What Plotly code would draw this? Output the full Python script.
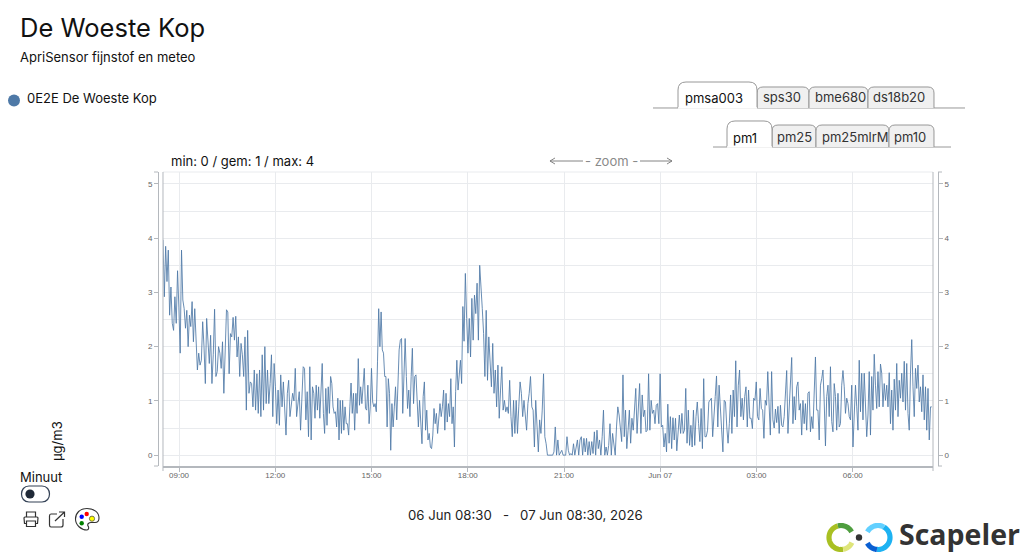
import numpy as np
import pandas as pd
import plotly.graph_objects as go

TITLE = "De Woeste Kop"
SUBTITLE = "ApriSensor fijnstof en meteo"
SENSOR = "0E2E De Woeste Kop"
STATS = "min: 0 / gem: 1 / max: 4"
UNIT = "µg/m3"
DATE_RANGE = "06 Jun 08:30   -   07 Jun 08:30, 2026"
TABS_TOP = ["pmsa003", "sps30", "bme680", "ds18b20"]
TABS_SUB = ["pm1", "pm25", "pm25mlrM", "pm10"]
X_TICK_TIMES = ["2026-06-06 09:00", "2026-06-06 12:00", "2026-06-06 15:00", "2026-06-06 18:00",
                "2026-06-06 21:00", "2026-06-07 00:00", "2026-06-07 03:00", "2026-06-07 06:00"]
X_TICK_LABELS = ["09:00", "12:00", "15:00", "18:00", "21:00", "Jun 07", "03:00", "06:00"]

# pm1 readings, one list per stretch of the time axis
T_BREAKS = ["2026-06-06 08:30", "2026-06-06 13:12", "2026-06-06 17:53",
            "2026-06-06 22:43", "2026-06-07 03:33", "2026-06-07 08:30"]
pm1_a = [3.97,2.92,3.85,3.2,3.78,2.58,3.1,2.43,2.3,2.92,2.43,3.4,2.73,1.88,3.78,2.86,2.7,2.34,2.67,2.0,2.58,2.37,2.83,2.09,2.7,2.0,1.57,1.88,1.66,1.75,
         2.46,2.0,1.32,2.52,2.12,1.69,2.21,1.32,1.85,2.69,1.45,1.54,2.0,1.88,1.6,2.09,1.14,2.18,2.68,2.64,1.5,2.24,2.18,2.54,2.12,2.56,1.81,2.18,1.45,2.06,
         1.85,1.45,2.18,0.83,2.3,1.14,1.35,1.32,0.89,1.57,0.83,1.5,0.77,1.57,0.71,1.85,0.83,2.0,0.95,1.57,0.95,1.32,1.85,0.71,1.69,1.26,0.58,1.2,0.55,1.48,
         0.89,1.35,0.95,0.37,1.14,1.38,0.71,0.95,1.14,1.0,1.6,0.71,1.0,1.17,0.46,1.0,1.63,1.6,0.65,1.17,0.34,1.63,0.28,1.26]
pm1_b = [1.14,.68,1.29,.83,1.26,.68,1.2,1.69,.77,.4,1.23,.55,1.26,.77,1.45,1.32,.89,.77,.8,.52,1.05,.28,1.01,.4,1.01,.46,.89,.58,.58,.37,
         .89,1.33,.77,1.14,.46,1.14,.77,1.78,.92,1.26,.95,1.23,1.6,.86,.83,1.29,.58,.89,1.6,.98,.89,.95,.8,1.72,2.7,2.0,2.64,1.94,1.88,1.45,
         1.45,.52,1.41,1.14,.09,.95,.52,.89,1.26,.65,1.38,1.94,2.12,2.15,.77,1.69,2.15,1.45,.86,1.2,.71,1.45,1.97,.95,1.45,1.48,.92,.52,1.01,.58,
         .21,1.08,1.35,.46,.83,.28,.4,.15,.12,.37,.86,.58,.77,.4,.71,.95,.71,.89,1.2,.46,1.14,.61,.95,.71,1.41,.58,.89,.15,1.17,1.75,1.2,1.45,1.75,1.32,2.74]
pm1_c = [2.1,3.35,2.52,1.88,2.52,1.81,2.89,2.12,2.95,2.61,3.17,2.12,3.5,2.98,2.7,2.24,1.45,2.67,1.38,2.18,1.82,1.26,2.06,1.14,1.57,.89,1.66,.68,1.2,1.63,
         .83,1.01,.80,.89,.77,1.38,.71,.34,1.01,.4,1.01,.40,.89,1.35,1.14,.71,1.01,.65,.46,.95,1.14,1.45,.89,.83,.15,1.01,.46,.06,.65,.40,
         .83,1.5,.34,.21,0,0,0,0,0,.06,.52,0,.28,0,.06,.09,0,0,0,.34,.09,0,.03,0,.21,0,.15,.28,0,.28,
         .34,0,.31,.06,.31,0,.25,0,.25,.03,.43,0,.46,.12,.28,0,.34,.83,0,.15,0,.18,.58,0,.4,.15,0,.52,.89]
pm1_d = [.74,.46,.25,1.48,.34,.83,.12,.46,.83,.22,.68,.46,.98,1.23,.4,.86,1.32,.4,1.11,.71,.83,.43,.46,1.5,.46,1.01,.77,.83,.58,.92,
         .95,.58,1.5,.52,.55,.15,.4,.06,.94,.22,.71,.12,.69,.28,.68,.08,.46,.74,.4,.77,.4,.46,1.23,.22,.83,.18,.55,.15,.83,.18,
         .71,.98,.58,.25,.86,.12,1.41,.34,.34,.46,.98,1.01,1.05,.34,.83,1.08,1.46,.52,1.29,.89,.49,.06,1.01,.98,.52,.22,.58,1.11,.4,1.2,
         .71,1.74,.52,1.29,1.57,.71,1.05,.65,1.08,1.26,.52,1.2,.68,.68,.49,1.05,1.01,1.35,.71,.65,1.23,.86,.83,.31,1.01,.92,1.54,.77,.37,1.54,.65]
pm1_e = [.5,.85,.6,.9,.4,.92,.55,.52,.71,1.11,1.56,.4,.83,1.32,1.8,.58,1.08,.65,1.26,1.35,.83,.95,.37,1.01,.58,.95,.46,1.14,1.17,.43,
         .71,.49,1.29,1.81,.83,.83,.28,1.29,1.41,1.57,.98,.17,1.08,1.29,.71,1.63,.62,.43,1.32,1.08,.46,1.14,.52,.58,1.29,1.56,1.26,.77,1.05,.95,
         .71,.65,1.29,.15,.74,1.29,.89,.46,1.75,.8,1.51,.65,1.51,.83,.34,.74,1.54,.37,1.45,.83,1.86,1.29,.86,1.54,.89,1.68,1.51,.89,1.32,1.01,
         1.29,.89,1.52,.58,1.2,.46,1.4,.83,1.69,.71,1.38,1.05,1.51,.98,1.73,.83,1.69,.77,.46,1.51,2.13,1.26,.71,1.6,1.23,1.66,.98,1.26,.8,1.48,
         .65,1.26,.46,1.23,.28,.89,.89]

SEGMENTS = [pm1_a, pm1_b, pm1_c, pm1_d, pm1_e]
times, values = [], []
for i, seg in enumerate(SEGMENTS):
    stamps = pd.date_range(T_BREAKS[i], T_BREAKS[i + 1], periods=len(seg) + 1)[:-1]
    times.extend(stamps)
    values.extend(seg)

BLUE = "#4e79a7"
GRID = "#e9ebee"
AXIS = "#b4b8bd"
TXT = "#111111"
FONT = "Inter"

W, H = 1023, 553
LEFT, RIGHT, TOP, BOTTOM = 158, 938, 172, 466


def px(x):
    return (x - LEFT) / (RIGHT - LEFT)


def py(y):
    return 1 - (y - TOP) / (BOTTOM - TOP)


def P(cmds):
    """Build a paper path from (cmd, x, y, ...) tuples given in page pixels."""
    out = []
    for c in cmds:
        nums = c[1:]
        pairs = [f"{px(nums[i]):.5f},{py(nums[i + 1]):.5f}" for i in range(0, len(nums), 2)]
        out.append(c[0] + " ".join(pairs))
    return " ".join(out)


shapes, notes = [], []


def path(cmds, color="#333333", width=1.0, fill=None):
    shapes.append(dict(type="path", xref="paper", yref="paper", path=P(cmds),
                       line=dict(color=color, width=width),
                       fillcolor=fill if fill else "rgba(0,0,0,0)"))


def circle(cx, cy, r, fill, color=None, width=0):
    shapes.append(dict(type="circle", xref="paper", yref="paper",
                       x0=px(cx - r), x1=px(cx + r), y0=py(cy + r), y1=py(cy - r),
                       fillcolor=fill, line=dict(color=color or fill, width=width)))


def text(s, x, y, size=13, color=TXT, anchor="left", family=FONT, angle=0, weight=None):
    f = dict(size=size, color=color, family=family)
    if weight:
        f["weight"] = weight
    notes.append(dict(text=s, xref="paper", yref="paper", x=px(x), y=py(y), xanchor=anchor,
                      yanchor="middle", showarrow=False, font=f, textangle=angle,
                      borderpad=0, borderwidth=0))


def arc(cx, cy, r, a0, a1, color, width=5.2):
    ang = np.radians(np.linspace(a0, a1, 24))
    pts = [("M" if i == 0 else "L", cx + r * np.cos(a), cy - r * np.sin(a)) for i, a in enumerate(ang)]
    path(pts, color=color, width=width)


def tab(x0, x1, ytop, ybase, fill, r=6):
    path([("M", x0, ybase), ("L", x0, ytop + r), ("Q", x0, ytop, x0 + r, ytop),
          ("L", x1 - r, ytop), ("Q", x1, ytop, x1, ytop + r), ("L", x1, ybase)],
         color="#8c8c8c", width=0.9, fill=fill)


# plot frame
path([("M", 163, TOP), ("L", 933, TOP)], color=GRID, width=1)
path([("M", 163, TOP), ("L", 163, 471)], color=AXIS, width=1)
path([("M", 933, TOP), ("L", 933, 471)], color=AXIS, width=1)
path([("M", 154, TOP), ("L", 158, TOP)], color=AXIS, width=1)
path([("M", 154, BOTTOM), ("L", 158, BOTTOM)], color=AXIS, width=1)
path([("M", 938, TOP), ("L", 942, TOP)], color=AXIS, width=1)
path([("M", 938, BOTTOM), ("L", 942, BOTTOM)], color=AXIS, width=1)

# header
text(TITLE, 20, 27, size=25.5)
text(SUBTITLE, 20, 57, size=13)
circle(14, 100.5, 6, BLUE)
text(SENSOR, 27, 98, size=13)
text(STATS, 171, 161, size=13)

# tab strips
path([("M", 653, 108), ("L", 965, 108)], color="#8c8c8c", width=0.9)
tab(757, 809, 87, 108, "#f0f0f0")
tab(809, 868, 87, 108, "#f0f0f0")
tab(868, 934, 87, 108, "#f0f0f0")
tab(678, 757, 82, 108, "#ffffff", r=8)
path([("M", 678, 108), ("L", 757, 108)], color="#ffffff", width=1.6)
for name, cx, cy, col in zip(TABS_TOP, [714, 781.5, 840, 899], [98, 97, 97, 97],
                             [TXT, "#333333", "#333333", "#333333"]):
    text(name, cx, cy, size=13, color=col, anchor="center")

path([("M", 713, 147), ("L", 951, 147)], color="#8c8c8c", width=0.9)
tab(772, 816, 125, 147, "#f0f0f0")
tab(816, 889, 125, 147, "#f0f0f0")
tab(889, 934, 125, 147, "#f0f0f0")
tab(727, 772, 121, 147, "#ffffff", r=8)
path([("M", 727, 147), ("L", 772, 147)], color="#ffffff", width=1.6)
for name, cx, cy, col in zip(TABS_SUB, [745, 794.5, 855, 910], [138, 137, 137, 137],
                             [TXT, "#333333", "#333333", "#333333"]):
    text(name, cx, cy, size=13, color=col, anchor="center")

# zoom hint
text("- zoom -", 611, 161, size=13, color="#8a8a8a", anchor="center")
path([("M", 550, 161), ("L", 583, 161), ("M", 555, 158), ("L", 550, 161), ("L", 555, 164)], color="#777777", width=0.9)
path([("M", 640, 161), ("L", 672, 161), ("M", 667, 158), ("L", 672, 161), ("L", 667, 164)], color="#777777", width=0.9)

# bottom-left controls
text(UNIT, 57, 441, size=13, anchor="center", angle=-90)
text("Minuut", 20, 477, size=13)
path([("M", 29, 486), ("L", 42, 486), ("C", 52, 486, 52, 502, 42, 502), ("L", 29, 502), ("C", 19, 502, 19, 486, 29, 486), ("Z",)],
     color="#334155", width=1.2, fill="#ffffff")
circle(30, 494, 4.6, "#1f2937")

path([("M", 26.5, 517), ("L", 26.5, 512), ("L", 35.5, 512), ("L", 35.5, 517)], width=1.2)
path([("M", 26.5, 523.5), ("L", 24.5, 523.5), ("L", 24, 518), ("Q", 24, 517, 25, 517), ("L", 37, 517), ("Q", 38, 517, 38, 518),
      ("L", 37.5, 523.5), ("L", 35.5, 523.5)], width=1.2)
path([("M", 26.5, 521), ("L", 35.5, 521), ("L", 35.5, 526.5), ("L", 26.5, 526.5), ("Z",)], width=1.2)
path([("M", 57, 514), ("L", 51, 514), ("Q", 49.5, 514, 49.5, 516), ("L", 49.5, 525), ("Q", 49.5, 527, 51, 527), ("L", 61, 527),
      ("Q", 63, 527, 63, 525), ("L", 63, 519)], width=1.2)
path([("M", 55, 521), ("L", 64.5, 512), ("M", 59, 512), ("L", 64.5, 512), ("L", 64.5, 517)], width=1.2)
path([("M", 87, 508.5), ("C", 80, 508.5, 75.5, 513, 75.5, 519), ("C", 75.5, 525, 81, 530, 87, 530), ("C", 89, 530, 89, 527, 88, 526),
      ("C", 87, 524, 89, 522.5, 91, 522.5), ("L", 95, 522.5), ("C", 98, 522.5, 99, 520, 99, 518), ("C", 99, 512.5, 94, 508.5, 87, 508.5), ("Z",)],
     width=1.1, fill="#ffffff")
circle(81.7, 516.7, 2.2, "#0000ff")
circle(86.7, 514, 2.2, "#ff0000")
circle(92, 518.7, 2.6, "#ffff00", color="#555555", width=0.8)
circle(81.7, 523.3, 2.2, "#008000")

# date range
text(DATE_RANGE, 525, 515, size=13.2, anchor="center", color="#222222")

# logo
arc(841, 537.5, 12, 105, 280, "#a9c023")
arc(841, 537.5, 12, 105, 28, "#4f9e3f")
arc(841, 537.5, 12, 280, 335, "#dfe57a")
arc(878, 537.5, 12, 152, 60, "#62d0ff")
arc(878, 537.5, 12, 60, -95, "#1db2f2")
arc(878, 537.5, 12, 265, 208, "#0a5fd2")
circle(859, 537.5, 3.2, "#333333")
text("Scapeler", 899, 534, size=28.5, color="#333333", family="Open Sans", weight=700)

fig = go.Figure()
fig.add_trace(go.Scatter(x=times, y=values, mode="lines", hoverinfo="skip", showlegend=False,
                         line=dict(color=BLUE, width=0.85)))
fig.add_trace(go.Scatter(x=[times[0]], y=[0], yaxis="y2", mode="lines", hoverinfo="skip", showlegend=False))

tick_font = dict(size=8, color="#666666", family="Liberation Sans")
y_common = dict(range=[-0.2, 5.22], tick0=0, dtick=1, tickfont=tick_font, ticks="outside", ticklen=4,
                tickcolor=AXIS, showline=True, linecolor=AXIS, linewidth=1, zeroline=False, anchor="free", fixedrange=True)

fig.update_layout(
    width=W, height=H, paper_bgcolor="#ffffff", plot_bgcolor="#ffffff", showlegend=False,
    margin=dict(l=LEFT, r=W - RIGHT, t=TOP, b=H - BOTTOM, autoexpand=False),
    font=dict(family=FONT),
    xaxis=dict(domain=[px(163), px(933)], range=[T_BREAKS[0], T_BREAKS[-1]], type="date",
               tickmode="array", tickvals=X_TICK_TIMES, ticktext=X_TICK_LABELS, tickfont=tick_font, tickangle=0,
               ticks="outside", ticklen=4, tickcolor=AXIS, ticklabelstandoff=-3, showline=True, linecolor=AXIS, linewidth=1.5,
               showgrid=True, gridcolor=GRID, gridwidth=1, zeroline=False, fixedrange=True),
    yaxis=dict(position=0, side="left", showgrid=True, gridcolor=GRID, gridwidth=1,
               minor=dict(dtick=0.5, tick0=0, showgrid=True, gridcolor=GRID, gridwidth=1, ticks=""), **y_common),
    yaxis2=dict(position=1, side="right", overlaying="y", showgrid=False, **y_common),
    shapes=shapes, annotations=notes,
)

fig.write_html("out.html", config=dict(displayModeBar=False),
               post_script="document.body.style.margin='0';document.body.style.overflow='hidden';")
